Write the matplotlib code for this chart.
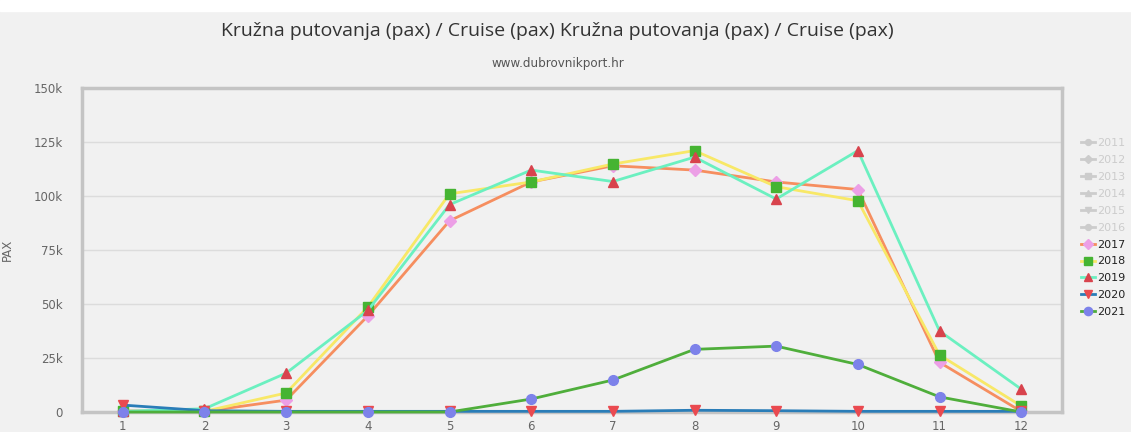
import matplotlib.pyplot as plt
from matplotlib.lines import Line2D

# data (passengers per month)
months = [1, 2, 3, 4, 5, 6, 7, 8, 9, 10, 11, 12]
pax_2017 = [500, 300, 5500, 44500, 88500, 106500, 114000, 112000, 106500, 103000, 23000, 300]
pax_2018 = [300, 300, 8800, 48600, 101000, 106500, 114800, 121000, 104300, 97800, 26400, 2800]
pax_2019 = [300, 1500, 18000, 47000, 96000, 112000, 106700, 118000, 98600, 121000, 37500, 10600]
pax_2020 = [3200, 600, 300, 300, 300, 300, 300, 800, 600, 300, 300, 300]
pax_2021 = [0, 0, 0, 0, 0, 6000, 14800, 29000, 30500, 22000, 7000, 0]
hidden_years = ["2011", "2012", "2013", "2014", "2015", "2016"]
hidden_markers = ["o", "D", "s", "^", "v", "o"]
yticks = [0, 25000, 50000, 75000, 100000, 125000, 150000]
ytick_labels = ["0", "25k", "50k", "75k", "100k", "125k", "150k"]

bg = "#f1f1f1"
fig = plt.figure(figsize=(11.31, 4.32), dpi=100, facecolor=bg)
fig.patches.append(plt.Rectangle((0, 0.975), 1, 0.025, transform=fig.transFigure,
                                 color="white", zorder=0))
ax = fig.add_axes([0.0725, 0.0463, 0.8665, 0.75], facecolor=bg)

series = [
    ("2017", pax_2017, "#f68e5f", "D", "#ec9fe6", 6),
    ("2018", pax_2018, "#f8e867", "s", "#45b432", 7),
    ("2019", pax_2019, "#6bf0c0", "^", "#d8434d", 7),
    ("2020", pax_2020, "#2a7db8", "v", "#ea4a50", 7),
    ("2021", pax_2021, "#4fae3b", "o", "#7d82ea", 7),
]

handles = []
for year, mk in zip(hidden_years, hidden_markers):
    handles.append(Line2D([], [], color="#cccccc", lw=2, marker=mk, markersize=5,
                          markerfacecolor="#cccccc", markeredgecolor="#cccccc"))

for year, vals, lc, mk, mc, ms in series:
    ln, = ax.plot(months, vals, color=lc, lw=2, marker=mk, markersize=ms,
                  markerfacecolor=mc, markeredgecolor=mc, clip_on=False, zorder=3)
    handles.append(ln)

labels = hidden_years + [s[0] for s in series]
leg = fig.legend(handles, labels, loc="upper left", bbox_to_anchor=(0.956, 0.68),
                 frameon=False, fontsize=8, handlelength=1.2, handletextpad=0.25,
                 labelspacing=0.62, borderaxespad=0, borderpad=0, markerscale=0.85)
for txt, lab in zip(leg.get_texts(), labels):
    txt.set_color("#cccccc" if lab in hidden_years else "#222222")

ax.set_xlim(0.5, 12.5)
ax.set_ylim(0, 150000)
ax.set_xticks(months)
ax.set_xticklabels([str(m) for m in months])
ax.set_yticks(yticks)
ax.set_yticklabels(ytick_labels)
ax.tick_params(axis="both", length=0, labelsize=8.5, colors="#666666")
ax.tick_params(axis="y", pad=14)
ax.tick_params(axis="x", pad=6)
ax.grid(axis="y", color="#dcdcdc", lw=1)
ax.set_axisbelow(True)
for sp in ax.spines.values():
    sp.set_color("#c4c4c4")
    sp.set_linewidth(2.5)

ax.set_ylabel("PAX", fontsize=8.5, color="#666666", labelpad=14)

fig.text(0.493, 0.928, "Kružna putovanja (pax) / Cruise (pax) Kružna putovanja (pax) / Cruise (pax)",
         ha="center", va="center", fontsize=14, color="#333333", family="Open Sans")
fig.text(0.493, 0.853, "www.dubrovnikport.hr", ha="center", va="center",
         fontsize=8.6, color="#555555")

fig.savefig("out.png", dpi=100, facecolor=bg)
